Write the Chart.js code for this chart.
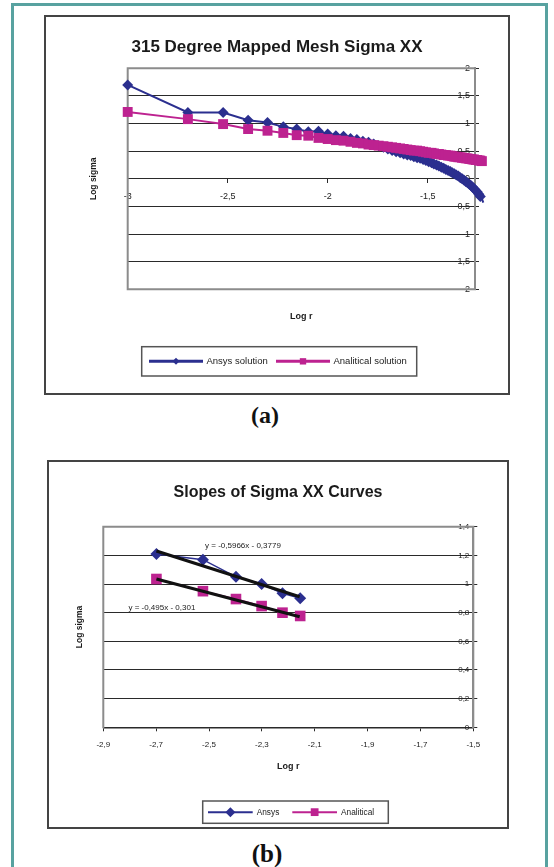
<!DOCTYPE html>
<html>
<head>
<meta charset="utf-8">
<script src="https://cdn.jsdelivr.net/npm/chart.js@4.4.1/dist/chart.umd.min.js"></script>
<style>
html,body{margin:0;padding:0;background:#fff;}
body{width:554px;height:867px;position:relative;overflow:hidden;font-family:"Liberation Sans",Arial,sans-serif;}
#frame{position:absolute;left:11px;top:3px;width:531px;height:900px;border:3px solid #58a2a0;}
.box{position:absolute;border:2px solid #444;background:#fff;}
#boxA{left:44px;top:15px;width:462px;height:376px;}
#boxB{left:47px;top:460px;width:458px;height:365px;}
.box canvas{display:block;}
.cap{position:absolute;font-family:"Liberation Serif","Times New Roman",serif;font-weight:bold;color:#111;transform:translate(-50%,-50%);line-height:1;white-space:nowrap;}
#capA{left:265px;top:415px;font-size:24px;}
#capB{left:267px;top:853px;font-size:25px;}
</style>
</head>
<body>
<div id="frame"></div>
<div class="box" id="boxA"><canvas id="chartA" width="462" height="376"></canvas></div>
<div class="box" id="boxB"><canvas id="chartB" width="458" height="365"></canvas></div>
<div class="cap" id="capA">(a)</div>
<div class="cap" id="capB">(b)</div>
<script>
// ---------- data: chart (a) ----------
const titleA = '315 Degree Mapped Mesh Sigma XX';
const seriesNamesA = ['Ansys solution', 'Analitical solution'];
const logRA = [-3, -2.699, -2.523, -2.398, -2.301, -2.222, -2.155, -2.097, -2.046, -2.0,
  -1.959, -1.921, -1.886, -1.854, -1.824, -1.796, -1.770, -1.745, -1.721, -1.699,
  -1.678, -1.658, -1.638, -1.620, -1.602, -1.585, -1.569, -1.553, -1.538, -1.523,
  -1.509, -1.495, -1.481, -1.469, -1.456, -1.444, -1.432, -1.420, -1.409, -1.398,
  -1.387, -1.377, -1.367, -1.357, -1.347, -1.337, -1.328, -1.319, -1.310, -1.301,
  -1.292, -1.284, -1.276, -1.268, -1.260, -1.252, -1.244, -1.237, -1.229, -1.222];
const ansysA = [1.70, 1.20, 1.20, 1.06, 1.02, 0.94, 0.90, 0.85, 0.86, 0.81,
  0.78, 0.77, 0.73, 0.71, 0.68, 0.66, 0.63, 0.60, 0.57, 0.54,
  0.51, 0.49, 0.47, 0.45, 0.43, 0.42, 0.40, 0.38, 0.37, 0.35,
  0.33, 0.31, 0.29, 0.27, 0.25, 0.23, 0.21, 0.19, 0.17, 0.15,
  0.13, 0.11, 0.09, 0.07, 0.05, 0.02, 0.00, -0.02, -0.05, -0.07,
  -0.10, -0.12, -0.15, -0.18, -0.21, -0.24, -0.28, -0.32, -0.36, -0.43];
const analyticA = [1.21, 1.08, 0.99, 0.90, 0.87, 0.83, 0.79, 0.78, 0.74, 0.72,
  0.70, 0.69, 0.67, 0.65, 0.64, 0.62, 0.61, 0.60, 0.59, 0.58,
  0.57, 0.56, 0.55, 0.54, 0.53, 0.52, 0.51, 0.51, 0.50, 0.49,
  0.48, 0.47, 0.47, 0.46, 0.45, 0.45, 0.44, 0.43, 0.43, 0.42,
  0.42, 0.41, 0.40, 0.40, 0.39, 0.39, 0.38, 0.38, 0.37, 0.37,
  0.36, 0.36, 0.35, 0.35, 0.34, 0.34, 0.33, 0.33, 0.32, 0.30];
const xRangeA = [-3, -1.2635];
const xTicksA = [-3, -2.5, -2, -1.5];
const yRangeA = [-2, 2];

// ---------- data: chart (b) ----------
const titleB = 'Slopes of Sigma XX Curves';
const seriesNamesB = ['Ansys', 'Analitical'];
const logRB = [-2.699, -2.523, -2.398, -2.301, -2.222, -2.155];
const ansysB = [1.21, 1.17, 1.05, 1.00, 0.935, 0.90];
const analyticB = [1.035, 0.95, 0.895, 0.846, 0.80, 0.777];
const trendX = [-2.699, -2.157];
const trendAnsysY = [1.231, 0.911];
const trendAnalyticY = [1.035, 0.772];
const trendTexts = ['y = -0,5966x - 0,3779', 'y = -0,495x - 0,301'];
const trendTextAt = [[-2.515, 1.267], [-2.805, 0.835]];
const xRangeB = [-2.9, -1.5];
const yRangeB = [0, 1.4];

const axisTitleX = 'Log r';
const axisTitleY = 'Log sigma';

// ---------- styling ----------
const FONT = '"Liberation Sans", Arial, sans-serif';
Chart.defaults.font.family = FONT;
const BLUE = '#2b2f8f';
const PINK = '#bd2290';
const GRID = '#2a2a2a';
const FRAME_GRAY = '#8c8c8c';
const fmt = v => { const r = Math.round(v * 100) / 100; return (r === 0 ? '0' : String(r)).replace('.', ','); };
const pts = (xs, ys) => xs.map((x, i) => ({x, y: ys[i]}));

const plotBorder = {
  id: 'plotBorder',
  beforeDatasetsDraw(chart, args, o) {
    const {ctx, chartArea: a} = chart;
    ctx.save();
    ctx.strokeStyle = o.color; ctx.lineWidth = o.width; ctx.lineCap = 'square';
    ctx.beginPath();
    const sides = o.sides;
    if (sides.includes('top')) { ctx.moveTo(a.left, a.top); ctx.lineTo(a.right, a.top); }
    if (sides.includes('left')) { ctx.moveTo(a.left, a.top); ctx.lineTo(a.left, a.bottom); }
    if (sides.includes('right')) { ctx.moveTo(a.right, a.top); ctx.lineTo(a.right, a.bottom); }
    if (sides.includes('bottom')) { ctx.moveTo(a.left, a.bottom); ctx.lineTo(a.right, a.bottom); }
    ctx.stroke();
    ctx.restore();
  }
};

function marker(ctx, style, r, x, y) {
  if (Chart.helpers && Chart.helpers.drawPoint) {
    Chart.helpers.drawPoint(ctx, {pointStyle: style, radius: r, borderWidth: 0, rotation: 0}, x, y);
    return;
  }
  ctx.beginPath();
  if (style === 'rectRot') { ctx.moveTo(x, y - r); ctx.lineTo(x + r, y); ctx.lineTo(x, y + r); ctx.lineTo(x - r, y); }
  else { const s = r * Math.SQRT1_2; ctx.rect(x - s, y - s, 2 * s, 2 * s); }
  ctx.closePath(); ctx.fill();
}

const boxLegend = {
  id: 'boxLegend',
  afterDraw(chart, args, o) {
    const ctx = chart.ctx;
    ctx.save();
    ctx.strokeStyle = o.borderColor; ctx.lineWidth = o.borderWidth;
    ctx.strokeRect(o.x, o.y, o.w, o.h);
    const cy = o.y + o.h / 2;
    o.items.forEach(it => {
      const ds = chart.data.datasets[it.dataset];
      ctx.strokeStyle = ds.borderColor; ctx.lineWidth = o.lineWidth;
      ctx.beginPath(); ctx.moveTo(it.x, cy); ctx.lineTo(it.x + o.lineLen, cy); ctx.stroke();
      ctx.fillStyle = ds.backgroundColor;
      marker(ctx, ds.pointStyle, ds.pointStyle === 'rect' ? o.markerRect : o.markerDiamond, it.x + o.lineLen / 2, cy);
      ctx.fillStyle = o.color; ctx.font = o.fontSize + 'px ' + FONT;
      ctx.textAlign = 'left'; ctx.textBaseline = 'middle';
      ctx.fillText(ds.label, it.x + o.lineLen + o.gap, cy + 0.5);
    });
    ctx.restore();
  }
};

const trendLabels = {
  id: 'trendLabels',
  afterDatasetsDraw(chart, args, o) {
    const {ctx, scales} = chart;
    ctx.save();
    ctx.fillStyle = o.color; ctx.font = o.fontSize + 'px ' + FONT;
    ctx.textAlign = 'left'; ctx.textBaseline = 'middle';
    o.texts.forEach((t, i) => {
      ctx.fillText(t, scales.x.getPixelForValue(o.at[i][0]), scales.y.getPixelForValue(o.at[i][1]));
    });
    ctx.restore();
  }
};

// ---------- chart (a) ----------
// The x range is applied after the data limits so that the last points,
// which run slightly past the value axis as in the original, are still drawn.
new Chart(document.getElementById('chartA'), {
  type: 'scatter',
  plugins: [plotBorder, boxLegend],
  data: {
    datasets: [
      {label: seriesNamesA[0], data: pts(logRA, ansysA), showLine: true, borderColor: BLUE, backgroundColor: BLUE,
       borderWidth: 2, pointStyle: 'rectRot', pointRadius: 5.5, pointBorderWidth: 0, order: 2, clip: false},
      {label: seriesNamesA[1], data: pts(logRA, analyticA), showLine: true, borderColor: PINK, backgroundColor: PINK,
       borderWidth: 2, pointStyle: 'rect', pointRadius: 7, pointBorderWidth: 0, order: 1, clip: false}
    ]
  },
  options: {
    responsive: false, animation: false, devicePixelRatio: 1, events: [],
    layout: {padding: {left: 0, right: 0, top: 0, bottom: 63.7}},
    plugins: {
      legend: {display: false}, tooltip: {enabled: false},
      title: {display: true, text: titleA, color: '#1a1a1a', font: {size: 17, weight: 'bold'}, padding: {top: 20.3, bottom: 10.6}},
      plotBorder: {color: FRAME_GRAY, width: 2, sides: ['top', 'left', 'right', 'bottom']},
      boxLegend: {x: 95.7, y: 329.7, w: 275, h: 29.3, borderColor: '#555', borderWidth: 1.5, lineWidth: 3, lineLen: 54,
        gap: 3.5, fontSize: 9.5, color: '#1a1a1a', markerDiamond: 3.5, markerRect: 4.5,
        items: [{dataset: 0, x: 103}, {dataset: 1, x: 230}]}
    },
    scales: {
      x: {type: 'linear', position: {y: 0}, bounds: 'data',
        afterDataLimits: s => { s.min = xRangeA[0]; s.max = xRangeA[1]; },
        afterBuildTicks: s => { s.ticks = xTicksA.map(v => ({value: v})); },
        ticks: {stepSize: 0.5, includeBounds: false, autoSkip: false, maxRotation: 0, padding: 8.6, color: '#222', font: {size: 9}, callback: fmt},
        grid: {drawOnChartArea: false, drawTicks: true, tickLength: 4, color: GRID},
        border: {display: true, color: GRID, width: 1}},
      xb: {type: 'linear', position: 'bottom', min: xRangeA[0], max: xRangeA[1],
        ticks: {display: false}, grid: {display: false}, border: {display: false},
        title: {display: true, text: axisTitleX, color: '#1a1a1a', font: {size: 9, weight: 'bold'}, padding: {top: 0, bottom: 6.9}},
        afterFit: s => { s.height = 40; }},
      y: {type: 'linear', position: 'right', min: yRangeA[0], max: yRangeA[1],
        ticks: {stepSize: 0.5, mirror: true, padding: -5, color: '#222', font: {size: 9}, callback: fmt},
        grid: {color: GRID, lineWidth: 1, tickLength: 4},
        border: {display: true, color: FRAME_GRAY, width: 2},
        afterFit: s => { s.width = 33; }},
      yl: {type: 'linear', position: 'left', min: yRangeA[0], max: yRangeA[1],
        ticks: {display: false}, grid: {display: false}, border: {display: false},
        title: {display: true, text: axisTitleY, color: '#1a1a1a', font: {size: 8.5, weight: 'bold'}, padding: {top: 42.2, bottom: 0}},
        afterFit: s => { s.width = 81.7; }}
    }
  }
});

// ---------- chart (b) ----------
new Chart(document.getElementById('chartB'), {
  type: 'scatter',
  plugins: [plotBorder, boxLegend, trendLabels],
  data: {
    datasets: [
      {label: seriesNamesB[0], data: pts(logRB, ansysB), showLine: true, borderColor: BLUE, backgroundColor: BLUE,
       borderWidth: 1.5, pointStyle: 'rectRot', pointRadius: 6, pointBorderWidth: 0, order: 2, clip: false},
      {label: seriesNamesB[1], data: pts(logRB, analyticB), showLine: true, borderColor: PINK, backgroundColor: PINK,
       borderWidth: 1.5, pointStyle: 'rect', pointRadius: 7.5, pointBorderWidth: 0, order: 1, clip: false},
      {label: 'trend Ansys', data: pts(trendX, trendAnsysY), showLine: true, borderColor: '#111', backgroundColor: '#111',
       borderWidth: 3.2, pointRadius: 0, order: 0, clip: false},
      {label: 'trend Analitical', data: pts(trendX, trendAnalyticY), showLine: true, borderColor: '#111', backgroundColor: '#111',
       borderWidth: 3.2, pointRadius: 0, order: 0, clip: false}
    ]
  },
  options: {
    responsive: false, animation: false, devicePixelRatio: 1, events: [],
    layout: {padding: {left: 0, right: 0, top: 0, bottom: 48.9}},
    plugins: {
      legend: {display: false}, tooltip: {enabled: false},
      title: {display: true, text: titleB, color: '#1a1a1a', font: {size: 16, weight: 'bold'}, padding: {top: 21.4, bottom: 24.1}},
      plotBorder: {color: FRAME_GRAY, width: 2, sides: ['top', 'left', 'right']},
      boxLegend: {x: 153.7, y: 339, w: 185.6, h: 22.3, borderColor: '#555', borderWidth: 1.5, lineWidth: 2, lineLen: 44.7,
        gap: 4, fontSize: 8.3, color: '#1a1a1a', markerDiamond: 5, markerRect: 5.5,
        items: [{dataset: 0, x: 159}, {dataset: 1, x: 243.3}]},
      trendLabels: {texts: trendTexts, at: trendTextAt, color: '#222', fontSize: 8}
    },
    scales: {
      x: {type: 'linear', position: 'bottom', min: xRangeB[0], max: xRangeB[1],
        ticks: {stepSize: 0.2, autoSkip: false, maxRotation: 0, padding: 8.2, color: '#222', font: {size: 8}, callback: fmt},
        grid: {drawOnChartArea: false, drawTicks: true, tickLength: 4, color: GRID},
        border: {display: true, color: GRID, width: 1.5},
        title: {display: true, text: axisTitleX, color: '#1a1a1a', font: {size: 9, weight: 'bold'}, padding: {top: 0, bottom: 6}},
        afterFit: s => { s.height = 50.8; }},
      y: {type: 'linear', position: 'right', min: yRangeB[0], max: yRangeB[1],
        ticks: {stepSize: 0.2, mirror: true, padding: -4, color: '#222', font: {size: 8}, callback: fmt},
        grid: {color: GRID, lineWidth: 1, tickLength: 4},
        border: {display: true, color: FRAME_GRAY, width: 2},
        afterFit: s => { s.width = 33.7; }},
      yl: {type: 'linear', position: 'left', min: yRangeB[0], max: yRangeB[1],
        ticks: {display: false}, grid: {display: false}, border: {display: false},
        title: {display: true, text: axisTitleY, color: '#1a1a1a', font: {size: 8.5, weight: 'bold'}, padding: {top: 25.2, bottom: 0}},
        afterFit: s => { s.width = 54.3; }}
    }
  }
});
</script>
</body>
</html>
